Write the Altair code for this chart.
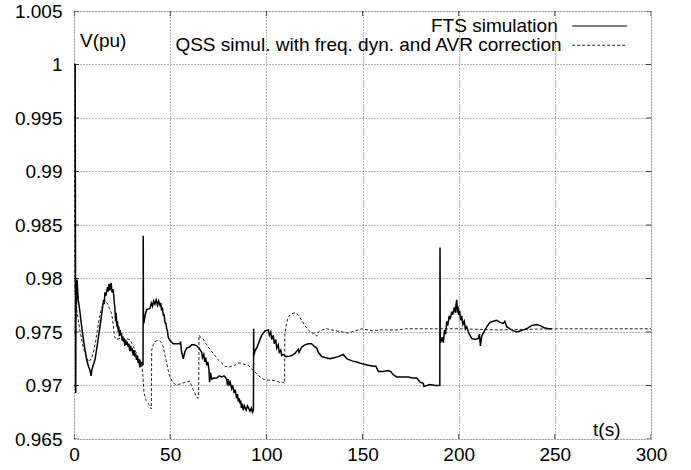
import altair as alt
import pandas as pd

# ---- data ----
fts_t = [
    0, 0.6, 0.9, 1.0, 1.6, 2.2, 3.0, 4.0, 5.3, 6.6,
    7.5, 8.3, 8.9, 9.3, 10.9, 12.2, 13.5, 14.8, 15.4, 15.7,
    16.1, 16.6, 17.4, 17.8, 18.2, 18.7, 19.3, 19.8, 20.4, 20.9,
    21.3, 21.6, 21.9, 22.3, 22.6, 23.0, 23.3, 23.6, 24.0, 24.3,
    24.7, 25.0, 25.4, 25.7, 26.1, 26.4, 26.8, 27.2, 27.6, 28.2,
    28.6, 29.0, 29.4, 29.8, 30.3, 30.8, 31.2, 31.6, 32.0, 32.5,
    32.9, 33.4, 33.8, 34.2, 34.6, 35.2, 35.6, 35.9, 36.0, 36.1,
    36.3, 37.0, 37.8, 39.5, 40.2, 40.8, 41.4, 42.1, 42.7, 43.4,
    44.0, 44.7, 45.1, 45.5, 46.0, 46.4, 46.9, 47.3, 47.8, 48.2,
    48.6, 49.0, 49.9, 51.6, 53.0, 55.1, 55.4, 55.8, 56.8, 57.6,
    58.6, 60.0, 61.2, 62.5, 63.8, 65.0, 66.4, 66.8, 67.5, 68.0,
    68.5, 69.0, 69.6, 70.2, 70.5, 71.0, 71.6, 72.8, 74.2, 75.5,
    76.8, 78.0, 79.4, 79.8, 80.2, 80.7, 81.2, 82.0, 82.5, 83.3,
    83.8, 84.6, 85.0, 85.4, 85.9, 86.3, 86.7, 87.0, 87.5, 88.0,
    88.6, 89.5, 90.2, 91.5, 92.2, 92.8, 93.3, 93.4, 93.5, 94.2,
    95.0, 96.3, 97.6, 99.3, 101.0, 101.6, 102.3, 102.8, 103.6, 104.1,
    104.9, 105.4, 106.2, 106.7, 107.5, 108.0, 108.8, 110.0, 111.4, 113.2,
    114.9, 116.6, 117.0, 118.4, 120.1, 121.8, 123.5, 125.3, 126.2, 127.0,
    128.8, 131.0, 133.1, 135.2, 137.4, 140.0, 141.8, 144.5, 147.0, 150.4,
    153.0, 155.6, 157.0, 158.2, 160.8, 163.4, 164.7, 166.0, 167.8, 170.8,
    173.8, 176.0, 178.2, 180.0, 181.6, 182.0, 185.0, 188.0, 190.2, 190.3,
    190.4, 190.6, 191.5, 192.0, 192.7, 193.2, 193.8, 194.3, 195.1, 195.6,
    196.4, 196.9, 197.7, 198.2, 198.6, 199.0, 199.3, 199.6, 200.0, 200.5,
    201.0, 201.6, 202.2, 202.9, 203.5, 204.2, 205.5, 206.8, 208.5, 210.2,
    210.8, 211.3, 212.0, 213.7, 215.0, 216.3, 218.0, 219.8, 221.5, 223.2,
    224.0, 225.0, 226.7, 228.5, 230.2, 231.9, 233.6, 235.3, 237.1, 238.0,
    240.6, 242.3, 244.5, 246.5, 248.5]
fts_v = [
    1.0, 1.0, .9693, .9760, .9799, .9780, .9770, .9755, .9738, .9724,
    .9718, .9714, .9709, .9715, .9724, .9739, .9755, .9772, .9780, .9776,
    .9787, .9784, .9792, .9788, .9795, .9789, .9796, .9787, .9790, .9778,
    .9772, .9760, .9768, .9755, .9760, .9750, .9755, .9746, .9752, .9747,
    .9749, .9742, .9746, .9741, .9744, .9737, .9743, .9738, .9741, .9736,
    .9739, .9732, .9737, .9733, .9734, .9728, .9733, .9727, .9730, .9724,
    .9728, .9721, .9725, .9717, .9722, .9718, .9722, .9719, .9840, .9762,
    .9758, .9766, .9771, .9772, .9777, .9774, .9779, .9776, .9780, .9775,
    .9779, .9775, .9777, .9771, .9772, .9766, .9766, .9759, .9758, .9753,
    .9751, .9745, .9742, .9739, .9739, .9739, .9741, .9733, .9725, .9731,
    .9735, .9736, .9738, .9738, .9737, .9735, .9731, .9726, .9729, .9722,
    .9726, .9719, .9722, .9714, .9703, .9712, .9706, .9707, .9707, .9709,
    .9708, .9709, .9706, .9700, .9706, .9701, .9703, .9697, .9700, .9693,
    .9696, .9688, .9692, .9685, .9688, .9683, .9686, .9679, .9683, .9677,
    .9681, .9677, .9681, .9676, .9679, .9675, .9677, .9753, .9728, .9733,
    .9735, .9741, .9747, .9751, .9752, .9747, .9750, .9743, .9747, .9739,
    .9743, .9735, .9738, .9731, .9733, .9728, .9729, .9727, .9727, .9728,
    .9730, .9734, .9731, .9736, .9738, .9739, .9739, .9736, .9735, .9731,
    .9727, .9726, .9725, .9726, .9727, .9729, .9725, .9723, .9722, .9720,
    .9719, .9718, .9718, .9713, .9713, .9714, .9713, .9710, .9708, .9708,
    .9708, .9707, .9707, .9703, .9702, .9699, .9701, .9700, .9700, .9829,
    .9744, .9740, .9745, .9740, .9752, .9748, .9760, .9756, .9765, .9762,
    .9769, .9766, .9773, .9768, .9775, .9780, .9768, .9774, .9766, .9770,
    .9761, .9765, .9757, .9760, .9753, .9755, .9748, .9744, .9743, .9744,
    .9748, .9737, .9746, .9752, .9756, .9759, .9760, .9761, .9759, .9758,
    .9760, .9755, .9753, .9751, .9750, .9751, .9752, .9753, .9755, .9756,
    .9757, .9756, .9754, .9753, .9753]

qss_t = [0, 0.5, 1.5, 3.0, 4.5, 5.7, 7.5, 9.0, 10.0, 11.4, 12.7, 14.0, 15.2, 16.5, 17.5, 18.5, 19.6, 20.4, 21.0,
         22.0, 24.0, 26.5, 29.0, 30.5, 31.7, 33.0, 34.3, 35.3, 35.8, 36.4, 37.5, 38.7, 39.9, 40.2, 40.4, 41.2, 42.1,
         43.3, 44.4, 45.5, 46.4, 47.3, 48.2, 49.0, 49.9, 51.0, 52.5, 54.5, 56.0, 58.0, 60.3, 61.0, 62.0, 63.3, 64.3,
         64.8, 65.0, 65.8, 66.9, 68.3, 69.8, 71.5, 73.3, 75.0, 76.8, 78.5, 80.3, 82.0, 83.7, 85.0, 86.5, 88.0, 90.6,
         93.2, 95.0, 96.7, 98.5, 100.2, 103.0, 105.4, 107.0, 108.8, 109.5, 109.6, 110.5, 111.4, 113.0, 114.9, 116.6,
         118.4, 120.0, 121.8, 123.5, 125.3, 126.2, 127.0, 129.0, 131.4, 134.0, 136.6, 139.5, 142.6, 146.0, 149.6,
         152.5, 155.6, 159.0, 162.6, 168.0, 173.0, 185.0, 200.0, 220.0, 250.0, 275.0, 300.0]
qss_v = [1.0, 0.9790, 0.9770, 0.9752, 0.9738, 0.9730, 0.9722, 0.9725, 0.9730, 0.9743, 0.9758, 0.9770, 0.9777,
         0.9779, 0.9776, 0.9772, 0.9767, 0.9757, 0.9746, 0.9743, 0.9744, 0.9744, 0.9743, 0.9738, 0.9733, 0.9728,
         0.9724, 0.9718, 0.9710, 0.9693, 0.9686, 0.9683, 0.9679, 0.9678, 0.9733, 0.9738, 0.9741, 0.9742, 0.9742,
         0.9740, 0.9736, 0.9728, 0.9721, 0.9714, 0.9708, 0.9704, 0.9701, 0.9701, 0.9702, 0.9703, 0.9704, 0.9700,
         0.9696, 0.9691, 0.9688, 0.9690, 0.9747, 0.9745, 0.9744, 0.9740, 0.9736, 0.9732, 0.9728, 0.9724, 0.9721,
         0.9718, 0.9717, 0.9718, 0.9719, 0.9721, 0.9721, 0.9720, 0.9719, 0.9714, 0.9711, 0.9708, 0.9706, 0.9705,
         0.9705, 0.9704, 0.9703, 0.9703, 0.9702, 0.9748, 0.9758, 0.9764, 0.9767, 0.9768, 0.9766, 0.9761, 0.9756,
         0.9752, 0.9749, 0.9749, 0.9746, 0.9750, 0.9752, 0.9753, 0.9752, 0.9751, 0.9750, 0.9749, 0.9751, 0.9753,
         0.9752, 0.9751, 0.9752, 0.9752, 0.9752, 0.9753, 0.9753, 0.9753, 0.9752, 0.9753, 0.9753, 0.9753]

x_ticks = [0, 50, 100, 150, 200, 250, 300]
y_ticks = [0.965, 0.97, 0.975, 0.98, 0.985, 0.99, 0.995, 1.0, 1.005]

legend_labels = ["FTS simulation", "QSS simul. with freq. dyn. and AVR correction"]
y_title = "V(pu)"
x_title = "t(s)"

FONT = "Liberation Sans"
FS = 19

fts = pd.DataFrame({"t": fts_t, "v": fts_v})
qss = pd.DataFrame({"t": qss_t, "v": qss_v})
xt = pd.DataFrame({"t": x_ticks})
yt = pd.DataFrame({"v": y_ticks})

xs = alt.Scale(domain=[0, 300], nice=False, zero=False)
ys = alt.Scale(domain=[0.965, 1.005], nice=False, zero=False)

xaxis = alt.Axis(values=x_ticks, title=None, grid=True, domain=False, ticks=False,
                 labelFont=FONT, labelFontSize=FS, labelColor="black", labelPadding=6,
                 gridDash=[1, 2], gridColor="#666666", gridOpacity=1, labelFlush=False)
yaxis = alt.Axis(values=y_ticks, title=None, grid=True, domain=False, ticks=False, format=".3~f",
                 labelFont=FONT, labelFontSize=FS, labelColor="black", labelPadding=12,
                 gridDash=[1, 2], gridColor="#666666", gridOpacity=1, labelFlush=False)

base_fts = alt.Chart(fts).mark_line(color="black", strokeWidth=1.5, clip=True).encode(
    x=alt.X("t:Q", scale=xs, axis=xaxis),
    y=alt.Y("v:Q", scale=ys, axis=yaxis),
)
qss_line = alt.Chart(qss).mark_line(color="#222222", strokeWidth=1, strokeDash=[3, 2], clip=True).encode(
    x=alt.X("t:Q", scale=xs),
    y=alt.Y("v:Q", scale=ys),
)

# inward tick marks (gnuplot style), clipped to the plot frame
tick_bottom = alt.Chart(xt).mark_tick(orient="vertical", size=10, thickness=1, color="black", clip=True).encode(
    x=alt.X("t:Q", scale=xs), y=alt.datum(0.965))
tick_top = alt.Chart(xt).mark_tick(orient="vertical", size=10, thickness=1, color="black", clip=True).encode(
    x=alt.X("t:Q", scale=xs), y=alt.datum(1.005))
tick_left = alt.Chart(yt).mark_tick(orient="horizontal", size=10, thickness=1, color="black", clip=True).encode(
    y=alt.Y("v:Q", scale=ys), x=alt.datum(0))
tick_right = alt.Chart(yt).mark_tick(orient="horizontal", size=10, thickness=1, color="black", clip=True).encode(
    y=alt.Y("v:Q", scale=ys), x=alt.datum(300))

txt = dict(font=FONT, fontSize=FS, color="black", baseline="middle")
ylab = alt.Chart().mark_text(align="left", **txt).encode(
    x=alt.datum(3.1), y=alt.datum(1.0022), text=alt.value(y_title))
xlab = alt.Chart().mark_text(align="center", **txt).encode(
    x=alt.datum(277), y=alt.datum(0.96584), text=alt.value(x_title))

leg1_txt = alt.Chart().mark_text(align="right", **txt).encode(
    x=alt.datum(251.5), y=alt.datum(1.0036), text=alt.value(legend_labels[0]))
leg2_txt = alt.Chart().mark_text(align="right", **txt).encode(
    x=alt.datum(253.5), y=alt.datum(1.0018), text=alt.value(legend_labels[1]))
leg1_line = alt.Chart().mark_rule(color="black", strokeWidth=1.2).encode(
    x=alt.datum(259), x2=alt.datum(287.5), y=alt.datum(1.0036))
leg2_line = alt.Chart().mark_rule(color="#222222", strokeWidth=1, strokeDash=[3, 2]).encode(
    x=alt.datum(259), x2=alt.datum(287.5), y=alt.datum(1.0018))

chart = alt.layer(
    base_fts, qss_line, tick_bottom, tick_top, tick_left, tick_right,
    ylab, xlab, leg1_txt, leg2_txt, leg1_line, leg2_line,
).properties(
    width=577, height=428,
    padding={"left": 74, "top": 11, "right": 40, "bottom": 31},
    autosize=alt.AutoSizeParams(type="none"),
).configure_view(
    stroke="black", strokeWidth=1
).configure(background="white")

chart.save("out.html", embed_options={"renderer": "svg", "actions": False})
